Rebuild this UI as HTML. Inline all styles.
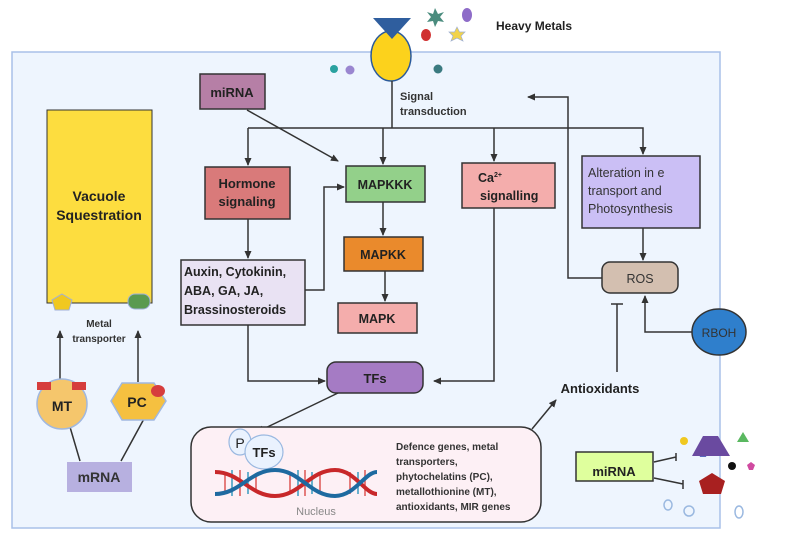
<!DOCTYPE html>
<html><head><meta charset="utf-8"><style>
body{margin:0;background:#fff;}
svg{display:block;font-family:"Liberation Sans",sans-serif;}
</style></head><body>
<svg width="787" height="536" viewBox="0 0 787 536" xmlns="http://www.w3.org/2000/svg">
<defs>
<marker id="a" markerWidth="8" markerHeight="8" refX="7" refY="4" orient="auto" markerUnits="userSpaceOnUse"><path d="M0,0.5 L8,4 L0,7.5z" fill="#333"/></marker>
</defs>
<rect x="12" y="52" width="708" height="476" fill="#eef5fe" stroke="#a9c0e8" stroke-width="1.5"/>
<ellipse cx="391" cy="56" rx="20" ry="25" fill="#fcd21c" stroke="#2a5a9c" stroke-width="1.5"/>
<polygon points="373,18 411,18 392,39" fill="#2f5e9e"/>
<path d="M435,8 l3,6 6,-2 -4,5 4,5 -6,-1 -3,6 -2,-6 -6,1 4,-5 -4,-5 6,2z" fill="#4a8c7e"/>
<ellipse cx="467" cy="15" rx="5" ry="7" fill="#8e6cc8"/>
<ellipse cx="426" cy="35" rx="5" ry="6" fill="#d03030"/>
<polygon points="457,27 459.5,32 465,32 461,36 463,41 457,38 451,41 453,36 449,32 454.5,32" fill="#f2d34a" stroke="#a0b0d0" stroke-width="0.7"/>
<circle cx="334" cy="69" r="4" fill="#2aa1a0"/>
<circle cx="350" cy="70" r="4.5" fill="#9a86d0"/>
<circle cx="438" cy="69" r="4.5" fill="#3a7a80"/>
<text x="496" y="30" font-size="12" font-weight="bold" fill="#222">Heavy Metals</text>
<text x="400" y="100" font-size="11" font-weight="bold" fill="#333">Signal</text>
<text x="400" y="115" font-size="11" font-weight="bold" fill="#333">transduction</text>
<g stroke="#333" stroke-width="1.5" fill="none">
<path d="M392,81 V128"/>
<path d="M248,128 H643 V154" marker-end="url(#a)"/>
<path d="M248,128 V165" marker-end="url(#a)"/>
<path d="M383,128 V164" marker-end="url(#a)"/>
<path d="M494,128 V161" marker-end="url(#a)"/>
<path d="M247,110 L338,161" marker-end="url(#a)"/>
<path d="M248,219 V258" marker-end="url(#a)"/>
<path d="M305,290 H324 V187 H344" marker-end="url(#a)"/>
<path d="M383,202 V235" marker-end="url(#a)"/>
<path d="M385,271 V301" marker-end="url(#a)"/>
<path d="M248,325 V381 H325" marker-end="url(#a)"/>
<path d="M494,208 V381 H434" marker-end="url(#a)"/>
<path d="M643,228 V260" marker-end="url(#a)"/>
<path d="M602,278 H568 V97 H528" marker-end="url(#a)"/>
<path d="M692,332 H645 V296" marker-end="url(#a)"/>
<path d="M617,372 V304 M611,304 H623"/>
<path d="M338,393 L257,432" marker-end="url(#a)"/>
<path d="M532,429 L556,400" marker-end="url(#a)"/>
<path d="M60,380 V331" marker-end="url(#a)"/>
<path d="M138,382 V331" marker-end="url(#a)"/>
<path d="M70,427 L80,461 M145,417 L121,461"/>
<path d="M654,462 L676,457 M676,453 V461"/>
<path d="M654,478 L683,484 M683,480 V489"/>
<path d="M312,470 V458 H368" marker-end="url(#a)"/>
</g>
<rect x="47" y="110" width="105" height="193" fill="#fddd3f" stroke="#333" stroke-width="1"/>
<text x="99" y="201" text-anchor="middle" font-size="14" font-weight="bold" fill="#222">Vacuole</text>
<text x="99" y="220" text-anchor="middle" font-size="14" font-weight="bold" fill="#222">Squestration</text>
<polygon points="62,294 72,300 69,310 55,310 52,300" fill="#f0c820" stroke="#a0b0d8" stroke-width="1"/>
<rect x="128" y="294" width="22" height="15" rx="7" fill="#5a9a50" stroke="#a0b0d8"/>
<text x="99" y="327" text-anchor="middle" font-size="10" font-weight="bold" fill="#333">Metal</text>
<text x="99" y="342" text-anchor="middle" font-size="10" font-weight="bold" fill="#333">transporter</text>
<circle cx="62" cy="404" r="25" fill="#f5c66c" stroke="#a0b8e0" stroke-width="1.5"/>
<rect x="37" y="382" width="14" height="8" fill="#d63d3d"/>
<rect x="72" y="382" width="14" height="8" fill="#d63d3d"/>
<text x="62" y="411" text-anchor="middle" font-size="14" font-weight="bold" fill="#222">MT</text>
<polygon points="122,383 154,383 166,401 154,420 122,420 111,401" fill="#f5c040" stroke="#a0b8e0" stroke-width="1.5"/>
<ellipse cx="158" cy="391" rx="7" ry="6" fill="#d63d3d"/>
<text x="137" y="407" text-anchor="middle" font-size="14" font-weight="bold" fill="#222">PC</text>
<rect x="67" y="462" width="65" height="30" fill="#b7b0e0"/>
<text x="99" y="482" text-anchor="middle" font-size="14" font-weight="bold" fill="#333">mRNA</text>
<g stroke="#333" stroke-width="1.5">
<rect x="200" y="74" width="65" height="35" fill="#b67fa6"/>
<rect x="205" y="167" width="85" height="52" fill="#d97a7a"/>
<rect x="346" y="166" width="79" height="36" fill="#93d08a"/>
<rect x="462" y="163" width="93" height="45" fill="#f4adac"/>
<rect x="582" y="156" width="118" height="72" fill="#cbbff5"/>
<rect x="181" y="260" width="124" height="65" fill="#e9e2f3"/>
<rect x="344" y="237" width="79" height="34" fill="#ea8a2c"/>
<rect x="338" y="303" width="79" height="30" fill="#f4adac"/>
<rect x="327" y="362" width="96" height="31" rx="9" fill="#a57bc4"/>
<rect x="602" y="262" width="76" height="31" rx="8" fill="#d3bfb0"/>
<ellipse cx="719" cy="332" rx="27" ry="23" fill="#2f7fcc"/>
<rect x="191" y="427" width="350" height="95" rx="20" fill="#fdf0f5"/>
<rect x="576" y="452" width="77" height="29" fill="#dfff9d"/>
</g>
<g font-weight="bold" fill="#222" text-anchor="middle">
<text x="232" y="97" font-size="13">miRNA</text>
<text x="247" y="188" font-size="13">Hormone</text>
<text x="247" y="206" font-size="13">signaling</text>
<text x="385" y="189" font-size="12.5">MAPKKK</text>
<text x="383" y="259" font-size="12.5">MAPKK</text>
<text x="377" y="323" font-size="12.5">MAPK</text>
<text x="375" y="383" font-size="13">TFs</text>
<text x="614" y="476" font-size="13">miRNA</text>
<text x="600" y="393" font-size="13">Antioxidants</text>
</g>
<g font-weight="bold" fill="#222" font-size="12.5">
<text x="184" y="276">Auxin, Cytokinin,</text>
<text x="184" y="295">ABA, GA, JA,</text>
<text x="184" y="314">Brassinosteroids</text>
</g>
<text x="478" y="182" font-size="12.5" font-weight="bold" fill="#222">Ca<tspan font-size="7" dy="-5">2+</tspan></text>
<text x="480" y="200" font-size="12.5" font-weight="bold" fill="#222">signalling</text>
<g font-size="12.5" fill="#333">
<text x="588" y="177">Alteration in e</text>
<text x="588" y="195">transport and</text>
<text x="588" y="213">Photosynthesis</text>
<text x="640" y="283" text-anchor="middle">ROS</text>
<text x="719" y="337" text-anchor="middle" font-size="12">RBOH</text>
<text x="316" y="515" text-anchor="middle" font-size="11" fill="#888">Nucleus</text>
</g>
<g font-size="10" font-weight="bold" fill="#333">
<text x="396" y="450">Defence genes, metal</text>
<text x="396" y="465">transporters,</text>
<text x="396" y="480">phytochelatins (PC),</text>
<text x="396" y="495">metallothionine (MT),</text>
<text x="396" y="510">antioxidants, MIR genes</text>
</g>
<ellipse cx="240" cy="442" rx="11" ry="13" fill="#eaf2fe" stroke="#9ab8e0" stroke-width="1.2"/>
<ellipse cx="264" cy="452" rx="19" ry="17" fill="#eaf2fe" stroke="#9ab8e0" stroke-width="1.2"/>
<text x="240" y="448" text-anchor="middle" font-size="14" fill="#222">P</text>
<text x="264" y="457" text-anchor="middle" font-size="13" font-weight="bold" fill="#222">TFs</text>
<g stroke-width="1.5">
<path d="M225,472 V494 M240,470 V496 M256,474 V492 M290,472 V494 M305,470 V496 M320,474 V492 M350,472 V494 M365,470 V496" stroke="#d55"/>
<path d="M232,470 V496 M248,472 V494 M298,470 V496 M312,472 V494 M358,472 V494" stroke="#3a9ac0"/>
</g>
<path d="M215,472 C240,472 250,496 275,496 C300,496 310,470 335,470 C355,470 365,494 377,494" stroke="#c8282a" stroke-width="4" fill="none"/>
<path d="M215,494 C240,494 250,470 275,470 C300,470 310,496 335,496 C355,496 365,472 377,472" stroke="#1e6aa0" stroke-width="4" fill="none"/>
<polygon points="703,148 708,151 706,157 700,157 698,151" fill="#5a6ac0" transform="translate(0,300)"/>
<circle cx="684" cy="441" r="4" fill="#f0c820"/>
<polygon points="703,436 718,436 730,456 692,456" fill="#6a4aa0"/>
<polygon points="743,432 749,442 737,442" fill="#5ab860"/>
<circle cx="732" cy="466" r="4" fill="#111"/>
<polygon points="751,462 755,465 753,470 749,470 747,465" fill="#d04aa0"/>
<polygon points="712,473 725,481 721,494 703,494 699,481" fill="#a82020"/>
<ellipse cx="668" cy="505" rx="4" ry="5" fill="none" stroke="#9ab8e0" stroke-width="1.5"/>
<circle cx="689" cy="511" r="5" fill="none" stroke="#9ab8e0" stroke-width="1.5"/>
<ellipse cx="739" cy="512" rx="4" ry="6" fill="none" stroke="#9ab8e0" stroke-width="1.5"/>
</svg>
</body></html>
